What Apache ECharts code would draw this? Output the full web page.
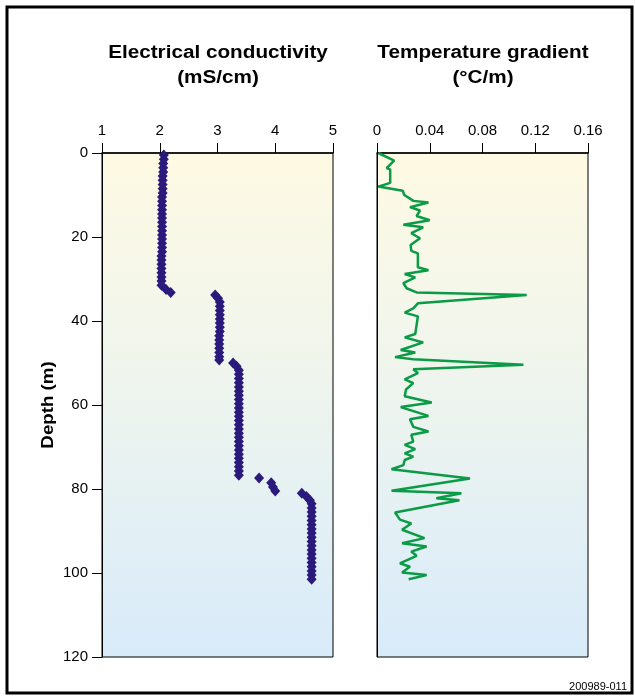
<!DOCTYPE html>
<html>
<head>
<meta charset="utf-8">
<script src="https://cdn.jsdelivr.net/npm/echarts@6/dist/echarts.min.js"></script>
<style>
html,body{margin:0;padding:0;background:#fff;}
#chart{width:635px;height:700px;}
</style>
</head>
<body>
<div id="chart"></div>
<script>
// Electrical conductivity (mS/cm) vs depth (m)
const condDepth = [0.5,1.5,2.5,3.5,4.5,5.5,6.5,7.5,8.5,9.5,10.5,11.5,12.5,13.5,14.5,15.5,16.5,17.5,18.5,19.5,20.5,21.5,22.5,23.5,24.5,25.5,26.5,27.5,28.5,29.5,30.5,31.5,32.5,33.2,
  33.8,34.6,35.5,36.5,37.5,38.5,39.5,40.5,41.5,42.5,43.5,44.5,45.5,46.5,47.5,48.5,49.3,
  50.0,50.8,51.7,52.7,53.7,54.7,55.7,56.7,57.7,58.7,59.7,60.7,61.7,62.7,63.7,64.7,65.7,66.7,67.7,68.7,69.7,70.7,71.7,72.7,73.7,74.7,75.7,76.7,
  77.4,78.5,79.5,80.5,
  81.0,81.8,82.7,83.5,84.5,85.5,86.5,87.5,88.5,89.5,90.5,91.5,92.5,93.5,94.5,95.5,96.5,97.5,98.5,99.5,100.5,101.5];
const condValue = [2.07,2.07,2.06,2.06,2.06,2.05,2.05,2.05,2.05,2.05,2.04,2.04,2.04,2.04,2.04,2.04,2.04,2.04,2.04,2.04,2.04,2.04,2.04,2.04,2.03,2.03,2.03,2.03,2.03,2.03,2.03,2.03,2.11,2.19,
  2.96,3.01,3.04,3.04,3.04,3.04,3.04,3.04,3.04,3.04,3.03,3.03,3.03,3.03,3.03,3.03,3.03,
  3.27,3.33,3.37,3.37,3.37,3.37,3.37,3.37,3.37,3.37,3.37,3.37,3.37,3.37,3.37,3.37,3.37,3.37,3.37,3.37,3.37,3.37,3.37,3.37,3.37,3.37,3.37,3.37,
  3.72,3.93,3.96,4.00,
  4.46,4.54,4.60,4.63,4.63,4.63,4.63,4.63,4.63,4.63,4.63,4.63,4.63,4.63,4.63,4.63,4.63,4.63,4.63,4.63,4.63,4.63];

// Temperature gradient (°C/m) vs depth (m)
const tgDepth = [0,1.8,3.6,3.9,7.1,8.0,8.4,9.0,10.0,11.4,11.8,12.9,13.7,15.0,16.0,17.1,17.7,19.1,20.3,21.9,23.3,23.9,27.2,27.9,28.8,29.6,31.0,32.2,33.2,33.8,35.8,37.0,38.0,38.9,43.1,43.9,45.1,46.9,47.5,48.6,49.1,50.4,51.5,52.4,53.9,54.8,56.3,57.9,59.4,60.5,62.6,63.4,65.2,66.3,67.1,68.7,69.5,70.5,71.5,72.3,73.1,74.3,75.3,77.5,80.4,81.0,82.2,82.7,85.6,87.3,88.2,89.7,91.7,92.9,93.7,94.9,95.9,97.7,98.5,99.9,100.5,101.5];
const tgValue = [0.001,0.013,0.0073,0.010,0.010,0.001,0.0017,0.0195,0.0207,0.0276,0.039,0.025,0.0326,0.030,0.040,0.020,0.035,0.026,0.0326,0.0255,0.026,0.031,0.031,0.039,0.021,0.029,0.020,0.0225,0.030,0.1135,0.031,0.0275,0.021,0.031,0.029,0.021,0.035,0.018,0.029,0.0137,0.0275,0.111,0.0275,0.031,0.021,0.0275,0.022,0.021,0.0415,0.018,0.039,0.025,0.0275,0.039,0.026,0.0275,0.021,0.029,0.021,0.0275,0.021,0.020,0.011,0.0705,0.011,0.064,0.045,0.0625,0.0137,0.0174,0.026,0.019,0.036,0.019,0.0376,0.026,0.030,0.0174,0.025,0.019,0.0376,0.024];

const condTicks = [1,2,3,4,5];
const tgTicks = [0,0.04,0.08,0.12,0.16];
const depthTicks = [0,20,40,60,80,100,120];

const FONT = '"Liberation Sans", Arial, Helvetica, sans-serif';
const chart = echarts.init(document.getElementById('chart'), null, {renderer:'canvas'});
const bg = new echarts.graphic.LinearGradient(0,0,0,1,[
  {offset:0,color:'#fefae3'},{offset:0.5,color:'#edf4ef'},{offset:1,color:'#d8ebfa'}]);

const xCommon = {
  type:'value', position:'top',
  axisLine:{show:true,lineStyle:{color:'#000',width:1.5}},
  axisTick:{show:true,inside:false,length:10,lineStyle:{color:'#000',width:1}},
  splitLine:{show:false},
  axisLabel:{color:'#000',fontSize:15,fontFamily:FONT,margin:15}
};
const option = {
  animation:false,
  backgroundColor:'#fff',
  grid:[
    {left:102,top:153,width:231,height:504,show:true,backgroundColor:bg,borderColor:'#000',borderWidth:1},
    {left:377,top:153,width:211,height:504,show:true,backgroundColor:bg,borderColor:'#000',borderWidth:1}
  ],
  xAxis:[
    Object.assign({},xCommon,{gridIndex:0,min:condTicks[0],max:condTicks[condTicks.length-1],interval:1}),
    Object.assign({},xCommon,{gridIndex:1,min:tgTicks[0],max:tgTicks[tgTicks.length-1],interval:0.04,
      axisLabel:Object.assign({},xCommon.axisLabel,{formatter:v=>{const t=tgTicks.find(k=>Math.abs(k-v)<1e-9);return t===undefined?'':String(t);}})})
  ],
  yAxis:[
    {type:'value',gridIndex:0,inverse:true,min:depthTicks[0],max:depthTicks[depthTicks.length-1],interval:20,
      axisLine:{show:true,lineStyle:{color:'#000',width:1}},
      axisTick:{show:true,inside:false,length:10,lineStyle:{color:'#000'}},
      splitLine:{show:false},
      axisLabel:{color:'#000',fontSize:15,fontFamily:FONT,margin:14}},
    {type:'value',gridIndex:1,inverse:true,min:0,max:120,interval:20,
      axisLine:{show:true,lineStyle:{color:'#000',width:1}},
      axisTick:{show:false},axisLabel:{show:false},splitLine:{show:false}}
  ],
  series:[
    {type:'scatter',xAxisIndex:0,yAxisIndex:0,symbol:'diamond',symbolSize:[10,11],
      itemStyle:{color:'#2b1a7c',opacity:1},
      data:condDepth.map((d,i)=>[condValue[i],d])},
    {type:'line',xAxisIndex:1,yAxisIndex:1,showSymbol:false,symbol:'none',
      lineStyle:{color:'#0b9a45',width:2.5},
      data:tgDepth.map((d,i)=>[tgValue[i],d])}
  ],
  graphic:[
    {type:'rect',shape:{x:7,y:7,width:625,height:686},style:{fill:'none',stroke:'#000',lineWidth:3},z:100},
    {type:'text',x:218,y:53,scaleX:1.15,style:{text:'Electrical conductivity',font:'bold 18px '+FONT,fill:'#000',textAlign:'center',textVerticalAlign:'middle'}},
    {type:'text',x:218,y:78,scaleX:1.15,style:{text:'(mS/cm)',font:'bold 18px '+FONT,fill:'#000',textAlign:'center',textVerticalAlign:'middle'}},
    {type:'text',x:483,y:53,scaleX:1.15,style:{text:'Temperature gradient',font:'bold 18px '+FONT,fill:'#000',textAlign:'center',textVerticalAlign:'middle'}},
    {type:'text',x:483,y:78,scaleX:1.15,style:{text:'(°C/m)',font:'bold 18px '+FONT,fill:'#000',textAlign:'center',textVerticalAlign:'middle'}},
    {type:'text',x:48,y:405,rotation:Math.PI/2,scaleX:1.1,style:{text:'Depth (m)',font:'bold 17px '+FONT,fill:'#000',textAlign:'center',textVerticalAlign:'middle'}},
    {type:'text',x:627,y:687,style:{text:'200989-011',font:'11px '+FONT,fill:'#000',textAlign:'right',textVerticalAlign:'middle'}}
  ]
};
chart.setOption(option);
</script>
</body>
</html>
